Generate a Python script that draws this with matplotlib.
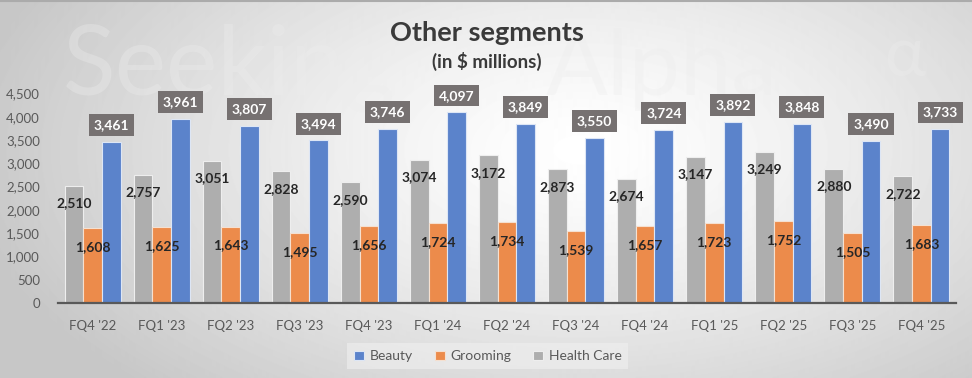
import numpy as np
import matplotlib
matplotlib.use("Agg")
import matplotlib.pyplot as plt

# data
quarters = ["FQ4 '22", "FQ1 '23", "FQ2 '23", "FQ3 '23", "FQ4 '23", "FQ1 '24", "FQ2 '24",
            "FQ3 '24", "FQ4 '24", "FQ1 '25", "FQ2 '25", "FQ3 '25", "FQ4 '25"]
beauty = [3461, 3961, 3807, 3494, 3746, 4097, 3849, 3550, 3724, 3892, 3848, 3490, 3733]
grooming = [1608, 1625, 1643, 1495, 1656, 1724, 1734, 1539, 1657, 1723, 1752, 1505, 1683]
health_care = [2510, 2757, 3051, 2828, 2590, 3074, 3172, 2873, 2674, 3147, 3249, 2880, 2722]

plt.rcParams['font.family'] = ['Lato', 'DejaVu Sans']

fig = plt.figure(figsize=(9.72, 3.78), dpi=100)

# radial gradient background
bg = fig.add_axes([0, 0, 1, 1], zorder=-10)
yy, xx = np.mgrid[0:378, 0:972]
d = np.sqrt(((xx - 580) / 620.0) ** 2 + ((yy - 150) / 330.0) ** 2)
shade = 1 - 0.22 * np.clip(d, 0, 1) ** 1.3
bg.imshow(shade, cmap='gray', vmin=0, vmax=1, aspect='auto', extent=[0, 1, 0, 1])
bg.plot([0, 1], [0.998, 0.998], color='#ABABAB', lw=1.5, transform=bg.transAxes)
bg.set_axis_off()

# faint watermark
wm = dict(color='#EDEDED', alpha=0.35, va='baseline', zorder=-5)
fig.text(63 / 972, 1 - 95 / 378, "Seeking", ha='left', fontsize=70, **wm)
fig.text(546 / 972, 1 - 95 / 378, "Alpha", ha='left', fontsize=66, **wm)
fig.text(905 / 972, 1 - 76 / 378, "\u03b1", ha='center', fontsize=50, **wm)

ax = fig.add_axes([0.0597, 0.1984, 0.9238, 0.5542])
ax.patch.set_alpha(0)

x = np.arange(len(quarters))
w = 0.27
col_hc = '#AEAEAE'
col_gr = '#EC8B4B'
col_be = '#5B83CB'

b_hc = ax.bar(x - w, health_care, w, color=col_hc, edgecolor='#EEEEEE', linewidth=0.8, label='Health Care')
b_gr = ax.bar(x, grooming, w, color=col_gr, edgecolor='#F5E0D0', linewidth=0.8, label='Grooming')
b_be = ax.bar(x + w, beauty, w, color=col_be, edgecolor='#DDE6F5', linewidth=0.8, label='Beauty')

for xi, v in zip(x, health_care):
    ax.annotate(f"{v:,}", (xi - w, v), xytext=(0, -12.5), textcoords='offset points',
                ha='center', va='center', fontsize=10, fontweight='bold', color='#262626')
for xi, v in zip(x, grooming):
    ax.annotate(f"{v:,}", (xi, v), xytext=(0, -13.7), textcoords='offset points',
                ha='center', va='center', fontsize=10, fontweight='bold', color='#262626')
for xi, v in zip(x + w, beauty):
    ax.annotate(f"{v:,}", (xi, v), xytext=(0, 12), textcoords='offset points',
                ha='center', va='center', fontsize=10, fontweight='bold', color='white',
                annotation_clip=False,
                bbox=dict(boxstyle='square,pad=0.35', fc='#767171', ec='none'))

ax.set_xlim(-0.5, len(quarters) - 0.5)
ax.set_ylim(0, 4500)
ax.set_yticks(np.arange(0, 4501, 500))
ax.set_yticklabels([f"{t:,}" for t in range(0, 4501, 500)])
ax.set_xticks(x)
ax.set_xticklabels(quarters)
ax.tick_params(axis='both', length=0, labelsize=9.5, labelcolor='#595959')
ax.tick_params(axis='y', pad=13)
ax.tick_params(axis='x', pad=12)
for s in ['top', 'right', 'left']:
    ax.spines[s].set_visible(False)
ax.spines['bottom'].set_color('#595959')
ax.spines['bottom'].set_linewidth(1.6)

fig.text(0.501, 0.912, "Other segments", ha='center', va='center', fontsize=19.5,
         fontweight='bold', color='#3A3A3A')
fig.text(0.501, 0.838, "(in $ millions)", ha='center', va='center', fontsize=13.5,
         fontweight='bold', color='#3A3A3A')

leg = fig.legend(handles=[b_be, b_gr, b_hc], labels=['Beauty', 'Grooming', 'Health Care'],
                 loc='center', bbox_to_anchor=(0.502, 0.0575), ncol=3, frameon=True,
                 fontsize=10, handlelength=0.7, handleheight=0.7, handletextpad=0.4,
                 columnspacing=1.6, fancybox=False, borderpad=0.5)
leg.get_frame().set_facecolor('#F0F0F0')
leg.get_frame().set_alpha(0.6)
leg.get_frame().set_edgecolor('none')
for t in leg.get_texts():
    t.set_color('#595959')

fig.savefig("out.png", dpi=100)
